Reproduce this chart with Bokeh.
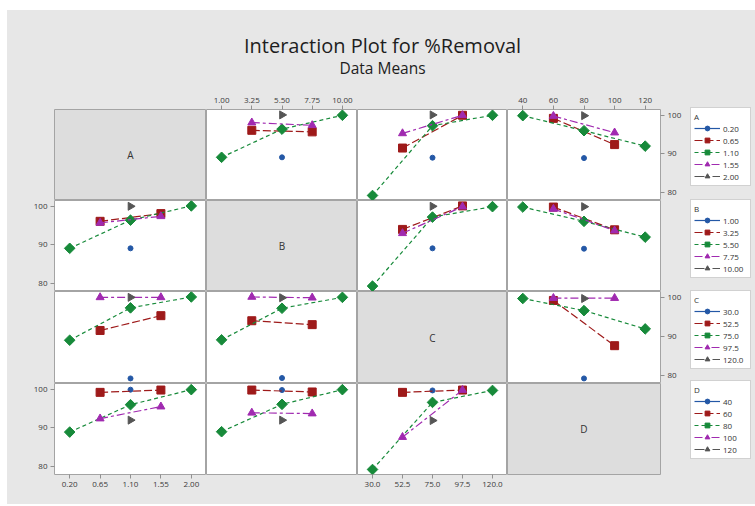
import math
from bokeh.plotting import figure
from bokeh.layouts import gridplot, row, column
from bokeh.models import (Range1d, LinearAxis, FixedTicker, PrintfTickFormatter,
                          Label, Legend, LegendItem)
from bokeh.embed import file_html
from bokeh.resources import INLINE

# ---------------- data ----------------
factors = ["A", "B", "C", "D"]
A_levels = [0.20, 0.65, 1.10, 1.55, 2.00]
B_levels = [1.00, 3.25, 5.50, 7.75, 10.00]
C_levels = [30.0, 52.5, 75.0, 97.5, 120.0]
D_levels = [40, 60, 80, 100, 120]
A_labels = ["0.20", "0.65", "1.10", "1.55", "2.00"]
B_labels = ["1.00", "3.25", "5.50", "7.75", "10.00"]
C_labels = ["30.0", "52.5", "75.0", "97.5", "120.0"]
D_labels = ["40", "60", "80", "100", "120"]
y_ticks = [80, 90, 100]

N = None
# cell means of %Removal: rows = level of first factor, cols = level of second factor
means_AB = [
    [N, N, 89.1, N, N],
    [N, 96.1, N, 95.7, N],
    [89.1, N, 96.4, N, 100.0],
    [N, 98.1, N, 97.4, N],
    [N, N, 100.1, N, N],
]
means_AC = [
    [N, N, 89.0, N, N],
    [N, 91.5, N, 100.0, N],
    [79.2, N, 97.3, N, 100.0],
    [N, 95.3, N, 100.0, N],
    [N, N, 100.1, N, N],
]
means_AD = [
    [N, N, 88.9, N, N],
    [N, 99.2, N, 92.4, N],
    [99.9, N, 96.0, N, 92.0],
    [N, 99.8, N, 95.5, N],
    [N, N, 99.9, N, N],
]
means_BC = [
    [N, N, 89.1, N, N],
    [N, 94.0, N, 100.1, N],
    [79.3, N, 97.2, N, 99.9],
    [N, 93.0, N, 99.9, N],
    [N, N, 100.0, N, N],
]
means_BD = [
    [N, N, 89.0, N, N],
    [N, 99.8, N, 93.9, N],
    [99.8, N, 96.1, N, 92.0],
    [N, 99.3, N, 93.7, N],
    [N, N, 99.9, N, N],
]
means_CD = [
    [N, N, 79.2, N, N],
    [N, 99.2, N, 87.6, N],
    [99.7, N, 96.6, N, 91.9],
    [N, 99.8, N, 99.8, N],
    [N, N, 99.7, N, N],
]

levels = {"A": A_levels, "B": B_levels, "C": C_levels, "D": D_levels}
labels = {"A": A_labels, "B": B_labels, "C": C_labels, "D": D_labels}
means = {("A", "B"): means_AB, ("A", "C"): means_AC, ("A", "D"): means_AD,
         ("B", "C"): means_BC, ("B", "D"): means_BD, ("C", "D"): means_CD}


def cell(r, c):
    if (r, c) in means:
        return means[(r, c)]
    m = means[(c, r)]
    return [[m[j][i] for j in range(5)] for i in range(5)]


# ---------------- style ----------------
FONT = "Open Sans"
BG = "#e7e7e7"
DIAG = "#dddddd"
EDGE = "#a4a4a4"
colors = ["#2458a6", "#9e1a1a", "#178a3a", "#a02ab0", "#555555"]
markers = ["circle", "square", "square", "triangle", "triangle"]
sizes = [5, 8, 7.5, 8, 8]
angles = [0, 0, math.pi / 4, 0, -math.pi / 2]
dashes = ["solid", "8 3", "4 3", "8 3 3 3", "10 3 2 3"]
x_fmt = {"A": "%.2f", "B": "%.2f", "C": "%.1f", "D": "%d"}

col_w = [152, 151, 150, 153]
row_h = [91, 91, 92, 91]
LB, RB, TB, BB = 47, 30, 22, 30

pad = {f: 0.125 * (levels[f][-1] - levels[f][0]) for f in factors}
x_ranges = {f: Range1d(levels[f][0] - pad[f], levels[f][-1] + pad[f]) for f in factors}
y_range = Range1d(77.9, 101.5)


def style_axis(ax):
    ax.major_label_text_font_size = "8px"
    ax.major_label_text_color = "#3a3a3a"
    ax.major_label_text_font = FONT
    ax.major_tick_line_color = "#909090"
    ax.major_tick_out = 4
    ax.major_tick_in = 0
    ax.minor_tick_line_color = None
    ax.axis_line_color = None
    ax.major_label_standoff = 3


grid = []
for i, rf in enumerate(factors):
    prow = []
    for j, cf in enumerate(factors):
        mbl = LB if j == 0 else 0
        mbr = RB if j == 3 else 0
        mbt = TB if i == 0 else 0
        mbb = BB if i == 3 else 0
        f = figure(width=col_w[j] + mbl + mbr, height=row_h[i] + mbt + mbb,
                   x_range=x_ranges[cf], y_range=y_range,
                   x_axis_type=None, y_axis_type=None,
                   toolbar_location=None, output_backend="svg",
                   min_border_left=mbl, min_border_right=mbr,
                   min_border_top=mbt, min_border_bottom=mbb,
                   background_fill_color=DIAG if i == j else "white",
                   border_fill_color=BG, outline_line_color=EDGE)
        if i == j:
            lab = Label(x=(x_ranges[cf].start + x_ranges[cf].end) / 2,
                        y=(y_range.start + y_range.end) / 2, text=rf,
                        text_align="center", text_baseline="middle",
                        text_font=FONT, text_font_size="10px", text_color="#333333")
            f.add_layout(lab)
        else:
            m = cell(rf, cf)
            xl = levels[cf]
            for k in range(5):
                xs = [xl[q] for q in range(5) if m[k][q] is not None]
                ys = [m[k][q] for q in range(5) if m[k][q] is not None]
                if len(xs) > 1:
                    f.line(xs, ys, line_color=colors[k], line_dash=dashes[k], line_width=1.2)
                f.scatter(xs, ys, marker=markers[k], size=sizes[k], angle=angles[k],
                          fill_color=colors[k], line_color=colors[k])
        if (i == 0 and j in (1, 3)) or (i == 3 and j in (0, 2)):
            ax = LinearAxis(ticker=FixedTicker(ticks=levels[cf]),
                            formatter=PrintfTickFormatter(format=x_fmt[cf]))
            style_axis(ax)
            f.add_layout(ax, "above" if i == 0 else "below")
        if (j == 0 and i in (1, 3)) or (j == 3 and i in (0, 2)):
            ax = LinearAxis(ticker=FixedTicker(ticks=y_ticks),
                            formatter=PrintfTickFormatter(format="%d"))
            style_axis(ax)
            f.add_layout(ax, "left" if j == 0 else "right")
        prow.append(f)
    grid.append(prow)

gp = gridplot(grid, toolbar_location=None)
gp.styles = {"background-color": BG}

GW = LB + sum(col_w) + RB
# ---------------- title ----------------
TW, TH = 748, 77
tf = figure(width=TW, height=TH, x_range=Range1d(0, TW), y_range=Range1d(0, TH),
            x_axis_type=None, y_axis_type=None, toolbar_location=None,
            output_backend="svg", min_border=0, outline_line_color=None,
            background_fill_color=BG, border_fill_color=BG)
tf.add_layout(Label(x=375, y=TH - 35, text="Interaction Plot for %Removal",
                    text_align="center", text_baseline="middle", text_font=FONT,
                    text_font_size="20px", text_color="#1e1e1e"))
tf.add_layout(Label(x=375, y=TH - 57, text="Data Means",
                    text_align="center", text_baseline="middle", text_font=FONT,
                    text_font_size="15.5px", text_color="#1e1e1e"))

# ---------------- legends ----------------
LW = TW - GW
LH = TB + sum(row_h) + BB
lf = figure(width=LW, height=LH, x_range=Range1d(0, LW), y_range=Range1d(0, LH),
            x_axis_type=None, y_axis_type=None, toolbar_location=None,
            output_backend="svg", min_border=0, outline_line_color=None,
            background_fill_color=BG, border_fill_color=BG)
leg_top = [23, 115, 206, 296]  # px from top of legend column
leg_h = 76
nan = float("nan")
for i, fac in enumerate(factors):
    items = []
    for k in range(5):
        lr = lf.line(x=[nan, nan], y=[nan, nan], line_color=colors[k],
                     line_dash=dashes[k], line_width=1.2)
        sr = lf.scatter(x=[nan], y=[nan], marker=markers[k], size=sizes[k], angle=angles[k],
                        fill_color=colors[k], line_color=colors[k])
        items.append(LegendItem(label=labels[fac][k], renderers=[lr, sr]))
    leg = Legend(items=items, location=(0, LH - leg_top[i] - leg_h), title=fac,
                 title_text_font=FONT, title_text_font_size="8px",
                 title_text_font_style="normal", title_text_color="#333333",
                 title_standoff=0,
                 label_text_font=FONT, label_text_font_size="8px", label_text_color="#333333",
                 glyph_width=26, glyph_height=12, label_height=12, label_width=24,
                 label_standoff=3, spacing=0, padding=3, margin=0,
                 border_line_color=EDGE, background_fill_color="white",
                 background_fill_alpha=1.0)
    lf.add_layout(leg)

layout = column(tf, row(gp, lf, styles={"background-color": BG}),
                margin=(10, 0, 0, 7), styles={"background-color": BG})
open("out.html", "w").write(file_html(layout, INLINE))
